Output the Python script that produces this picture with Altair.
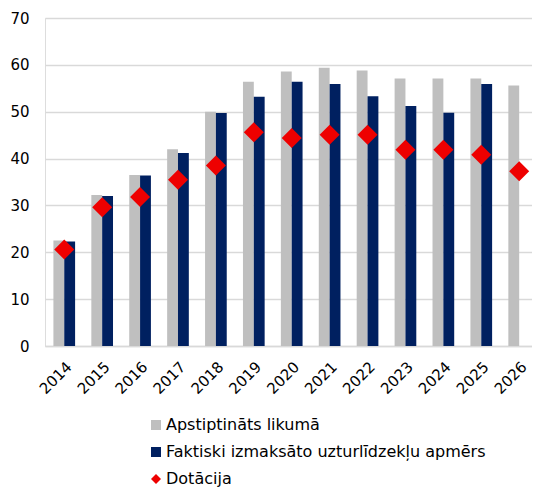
import altair as alt
import pandas as pd

years = ["2014", "2015", "2016", "2017", "2018", "2019", "2020",
         "2021", "2022", "2023", "2024", "2025", "2026"]
approved = [22.5, 32.2, 36.5, 42.0, 50.0, 56.4, 58.6, 59.4, 58.8, 57.1, 57.1, 57.1, 55.6]
paid = [22.3, 32.0, 36.4, 41.2, 49.7, 53.2, 56.4, 55.9, 53.3, 51.2, 49.8, 55.9, None]
subsidy = [20.6, 29.6, 31.8, 35.5, 38.5, 45.6, 44.4, 45.1, 45.1, 41.9, 41.9, 40.8, 37.3]

series = ["Apstiptināts likumā", "Faktiski izmaksāto uzturlīdzekļu apmērs", "Dotācija"]
colors = ["#BFBFBF", "#002060", "#EE0000"]
shapes = ["square", "square", "diamond"]

rows = []
for y, a, p in zip(years, approved, paid):
    rows.append({"year": y, "series": series[0], "value": a})
    if p is not None:
        rows.append({"year": y, "series": series[1], "value": p})
bars_df = pd.DataFrame(rows)
pts_df = pd.DataFrame({"year": years, "series": series[2], "value": subsidy})

FONT = "DejaVu Sans"

xscale = alt.Scale(domain=years, paddingInner=0.428, paddingOuter=0.137, align=0.81)
legend = alt.Legend(title=None, orient="none", legendX=103, legendY=399,
                    direction="vertical", symbolSize=100, labelFontSize=16,
                    labelFont=FONT, labelColor="#000000", labelLimit=0,
                    labelOffset=2, rowPadding=11, symbolStrokeWidth=0)
color = alt.Color("series:N", scale=alt.Scale(domain=series, range=colors), legend=legend)

xaxis = alt.Axis(title=None, labelAngle=315, ticks=False, grid=False, domain=True,
                 domainColor="#D9D9D9", domainWidth=1.5, labelPadding=13,
                 labelFontSize=15, labelFont=FONT, labelColor="#000000")
yaxis = alt.Axis(title=None, values=[0, 10, 20, 30, 40, 50, 60, 70], ticks=False,
                 domain=False, grid=True, gridColor="#D9D9D9", gridWidth=1.5,
                 labelPadding=16, labelFontSize=15, labelFont=FONT, labelColor="#000000")
yscale = alt.Scale(domain=[0, 70], nice=False)

bars = alt.Chart(bars_df).mark_bar().encode(
    x=alt.X("year:N", scale=xscale, axis=xaxis, sort=years),
    xOffset=alt.XOffset("series:N", scale=alt.Scale(domain=series[:2], paddingInner=0, paddingOuter=0)),
    y=alt.Y("value:Q", scale=yscale, axis=yaxis),
    color=color,
)

points = alt.Chart(pts_df).mark_point(filled=True, size=400, opacity=1).encode(
    x=alt.X("year:N", scale=xscale, axis=xaxis, sort=years),
    y=alt.Y("value:Q", scale=yscale, axis=yaxis),
    color=color,
    shape=alt.Shape("series:N", scale=alt.Scale(domain=series, range=shapes), legend=legend),
)

chart = alt.layer(bars, points).properties(
    width=487, height=328,
    autosize=alt.AutoSizeParams(type="none"),
    padding={"left": 37, "top": 10, "right": 0, "bottom": 143},
).configure_view(stroke=None).configure(font=FONT)

chart.save("out.html", embed_options={"renderer": "svg", "actions": False})
